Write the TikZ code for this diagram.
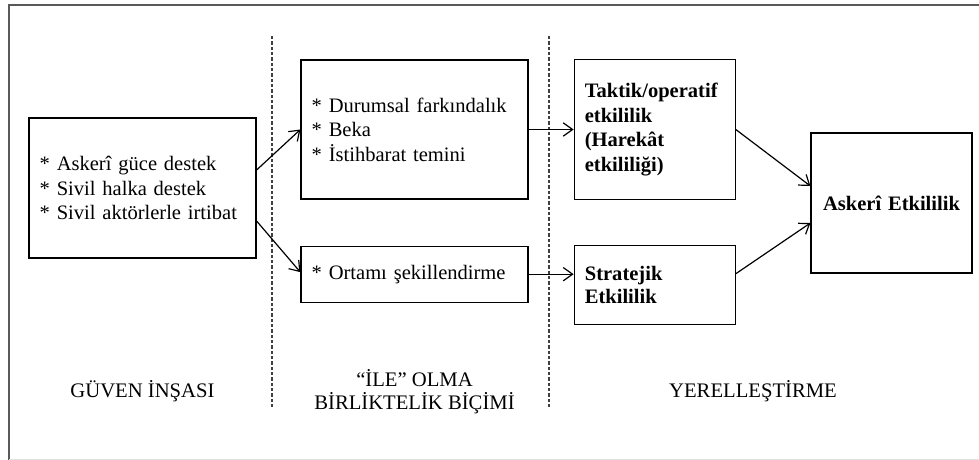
\documentclass[tikz,border=0pt]{standalone}
\usepackage{fontspec}
\setmainfont{Liberation Serif}
\usepackage{tikz}
\usetikzlibrary{arrows.meta}
\usetikzlibrary{positioning}
\tikzset{
    blok/.style={
           rectangle,
           draw=black, line width=0.9pt,
           inner xsep=8pt,
           inner ysep=0pt,
           align=left,
           font=\fontsize{15.4}{18.4}\selectfont,
           },
    etiket/.style={
           align=center,
           font=\fontsize{15.5}{17.3}\selectfont,
           },
    ayrac/.style={
           black!75, line width=0.8pt,
           dash pattern=on 2.5pt off 1.5pt,
           },
    ok/.style={
           ->, line width=0.9pt,
           },
}

\begin{document}
\begin{tikzpicture}[x=0.75pt,y=-0.75pt,>={Straight Barb[length=7pt,width=10pt]}]
  \useasboundingbox (0,0) rectangle (979,460);
  \fill[white] (0,0) rectangle (979,460);
  \draw[black!65, line width=0.9pt] (9,460) -- (9,5) -- (979,5);
  \draw[black!12, line width=0.6pt] (9,459) -- (979,459);

  \draw[ayrac] (272,36) -- (272,409);
  \draw[ayrac] (549,36) -- (549,409);

  \node[blok,
 minimum height=105pt,
 text width=154.25pt] (guven) at (142.5,188)
 {%
  * Askerî güce destek\\{}%
  * Sivil halka destek\\{}%
  * Sivil aktörlerle irtibat
 };
  \node[blok,
 minimum height=104.25pt,
 text width=154.25pt] (durum) at (414.5,129.5)
 {%
  * Durumsal farkındalık\\{}%
  * Beka\\{}%
  * İstihbarat temini
 };
  \node[blok,
 below=34.5pt of durum,
 minimum height=42pt,
 text width=154.25pt] (ortam) 
 {%
  * Ortamı şekillendirme
 };
  \node[blok,
 right=33.75pt of durum,
 minimum height=105pt,
 text width=104.75pt,
 font=\fontsize{15.4}{18.3}\selectfont\bfseries] (taktik) 
 {%
  Taktik/operatif\\
  etkililik\\
  (Harekât\\
  etkililiği)
 };
  \node[blok,
 below=33.75pt of taktik,
 minimum height=59.25pt,
 text width=104.75pt,
 font=\fontsize{15.4}{17.3}\selectfont\bfseries] (strateji) 
 {%
  Stratejik\\
  Etkililik
 };
  \node[blok,
 align=center,
 minimum height=105pt,
 text width=104.75pt,
 font=\fontsize{15.4}{18.4}\selectfont\bfseries] (askeri) at (891.5,203)
 {%
  Askerî Etkililik
 };

  \node[etiket] (lguven) at (142.5,391) {GÜVEN İNŞASI};
  \node[etiket] (lile) at (414.5,391.5) {“İLE” OLMA\\BİRLİKTELİK BİÇİMİ};
  \node[etiket] (lyerel) at (753,391) {YERELLEŞTİRME};

\path[ok]
  ([yshift=13.5pt]guven.east) edge (durum.west)
  ([yshift=-24.75pt]guven.east) edge ([yshift=1.5pt]ortam.west)
  (durum.east) edge (durum.east -| taktik.west)
  (ortam.east) edge (ortam.east -| strateji.west)
  (taktik.east) edge ([yshift=12.75pt]askeri.west)
  ([yshift=8.6pt]strateji.east) edge ([yshift=-15pt]askeri.west)
 ;
\end{tikzpicture}
\end{document}
